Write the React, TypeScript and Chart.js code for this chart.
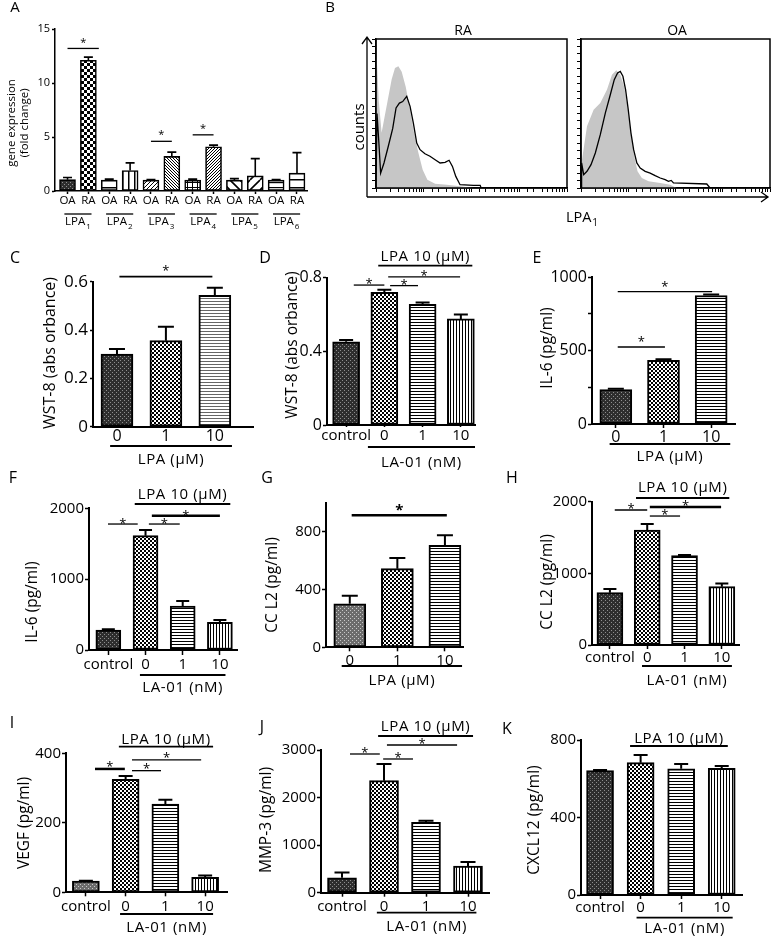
import { useEffect, useRef } from "react";
import { Chart, registerables } from "chart.js";

Chart.register(...registerables);

const FONT = '"Open Sans", "DejaVu Sans", sans-serif';

/* ===================== DATA ===================== */
// A: gene expression (fold change)
const A_CATEGORIES = ["OA", "RA", "OA", "RA", "OA", "RA", "OA", "RA", "OA", "RA", "OA", "RA"];
const A_VALUES = [1.05, 12.1, 1.0, 1.9, 1.0, 3.2, 1.0, 4.1, 1.0, 1.4, 1.0, 1.65];
const A_ERRORS = [0.2, 0.3, 0.1, 0.7, 0.05, 0.4, 0.1, 0.15, 0.15, 1.6, 0.05, 1.9];
const A_RECEPTORS = ["1", "2", "3", "4", "5", "6"];
const A_Y_TICKS = [0, 5, 10, 15];

// B: flow cytometry histograms (intensity, counts %)
const B_RA_ISO_X = [1, 1.03, 1.14, 1.31, 1.67, 2.13, 2.5, 2.94, 3.45, 4.19, 5.17, 6.26, 7.74, 9.5, 11.9, 17.3, 30.4, 57.6, 110];
const B_RA_ISO_Y = [0, 89, 59, 37, 55, 73, 80.5, 81.7, 78, 68, 52.6, 37, 23.5, 12.3, 5.6, 2.9, 2.2, 1.1, 0];
const B_RA_LPA1_X = [1, 1.05, 1.14, 1.25, 1.47, 1.81, 2.24, 2.63, 3.09, 3.62, 4.4, 5.17, 6.06, 7.13, 8.37, 10.6, 13.5, 17.3, 22.0, 28.0, 33.9, 39.9, 46.9, 57.6, 110, 152, 159];
const B_RA_LPA1_Y = [0, 50, 32, 10, 16.8, 28, 40, 53.7, 57, 58, 61.5, 54.8, 43.6, 30.2, 25.7, 23, 21.3, 19, 16.8, 17.2, 18.6, 14.5, 7.8, 2.2, 1.8, 1.8, 0];
const B_OA_ISO_X = [1, 1.05, 1.34, 1.85, 2.56, 3.54, 4.52, 5.58, 6.78, 8.2, 9.66, 11.4, 13.4, 15.7, 19.4, 26.9, 47.5, 77, 106];
const B_OA_ISO_Y = [0, 19, 41.4, 52.6, 57, 66, 76, 79, 76, 68.2, 54.8, 37, 21.3, 11.2, 6.7, 4.5, 3.4, 2.2, 0];
const B_OA_LPA1_X = [1, 1.03, 1.14, 1.34, 1.63, 2.01, 2.56, 3.27, 4.17, 5.06, 5.95, 6.78, 7.71, 8.78, 10.0, 11.4, 13.0, 15.2, 17.9, 22.8, 29.1, 37.1, 47.5, 60.4, 71, 81, 90.6, 459, 539];
const B_OA_LPA1_Y = [0, 16.8, 9, 11.2, 15.7, 23.5, 35.8, 50.3, 62.6, 72.7, 77.2, 78.3, 75, 66, 52.6, 37, 25.7, 16.8, 13.4, 11.2, 10, 8.3, 6.7, 5.6, 4.5, 5.1, 3.4, 2.7, 0];

// C: WST-8 vs LPA
const C_CATEGORIES = ["0", "1", "10"];
const C_VALUES = [0.3, 0.356, 0.544];
const C_ERRORS = [0.022, 0.058, 0.031];
const C_Y_TICKS = [0, 0.2, 0.4, 0.6];

// D: WST-8 vs LA-01
const LA_CATEGORIES = ["control", "0", "1", "10"];
const D_VALUES = [0.452, 0.72, 0.655, 0.576];
const D_ERRORS = [0.01, 0.015, 0.01, 0.024];
const D_Y_TICKS = [0, 0.4, 0.8];

// E: IL-6 vs LPA
const E_CATEGORIES = ["0", "1", "10"];
const E_VALUES = [235, 434, 876];
const E_ERRORS = [5, 7, 6];
const E_Y_MARKS = [0, 250, 500, 750, 1000];
const E_Y_LABELS = [0, 500, 1000];

// F: IL-6 vs LA-01
const F_VALUES = [282, 1614, 621, 390];
const F_ERRORS = [10, 80, 71, 34];
const F_Y_TICKS = [0, 1000, 2000];

// G: CCL2 vs LPA
const G_CATEGORIES = ["0", "1", "10"];
const G_VALUES = [301, 545, 707];
const G_ERRORS = [56, 74, 70];
const G_Y_TICKS = [0, 400, 800];

// H: CCL2 vs LA-01
const H_VALUES = [730, 1605, 1247, 814];
const H_ERRORS = [51, 83, 9, 46];
const H_Y_TICKS = [0, 1000, 2000];

// I: VEGF
const I_VALUES = [32, 325, 254, 43];
const I_ERRORS = [1.5, 10, 12, 5];
const I_Y_TICKS = [0, 200, 400];

// J: MMP-3
const J_VALUES = [315, 2355, 1479, 561];
const J_ERRORS = [112, 350, 35, 84];
const J_Y_TICKS = [0, 1000, 2000, 3000];

// K: CXCL12
const K_VALUES = [642, 683, 651, 654];
const K_ERRORS = [3, 40, 25, 12];
const K_Y_TICKS = [0, 400, 800];

/* ===================== PATTERNS ===================== */
function makePattern(name: string): CanvasPattern | string {
  const c = document.createElement("canvas");
  let g = c.getContext("2d")!;
  const tile = (w: number, h: number, bg: string) => {
    c.width = w;
    c.height = h;
    g = c.getContext("2d")!;
    g.fillStyle = bg;
    g.fillRect(0, 0, w, h);
    g.fillStyle = "#000";
    g.strokeStyle = "#000";
  };
  const diag = (s: number, dir: number, lw: number) => {
    tile(s, s, "#fff");
    g.lineWidth = lw;
    g.beginPath();
    for (const o of [-s, 0, s]) {
      if (dir > 0) {
        g.moveTo(o, s);
        g.lineTo(o + s, 0);
      } else {
        g.moveTo(o, 0);
        g.lineTo(o + s, s);
      }
    }
    g.stroke();
  };
  switch (name) {
    case "dark":
      tile(4, 4, "#2e2e2e");
      g.fillStyle = "#8e8e8e";
      g.fillRect(0, 0, 1, 1);
      g.fillRect(2, 2, 1, 1);
      break;
    case "gray":
      tile(4, 4, "#6c6c6c");
      g.fillStyle = "#c8c8c8";
      g.fillRect(0, 0, 1, 1);
      g.fillRect(2, 2, 1, 1);
      break;
    case "check":
      tile(4, 4, "#fff");
      g.fillRect(0, 0, 2, 2);
      g.fillRect(2, 2, 2, 2);
      break;
    case "checkBig":
      tile(6, 6, "#fff");
      g.fillRect(0, 0, 3, 3);
      g.fillRect(3, 3, 3, 3);
      break;
    case "hstripe":
      tile(4, 3, "#fff");
      g.fillRect(0, 0, 4, 1);
      break;
    case "hstripeGray":
      tile(4, 3, "#fff");
      g.fillStyle = "#666";
      g.fillRect(0, 0, 4, 1);
      break;
    case "vstripe":
      tile(3, 4, "#fff");
      g.fillRect(0, 0, 1, 4);
      break;
    case "hwide":
      tile(4, 8, "#fff");
      g.fillRect(0, 3, 4, 1.5);
      break;
    case "hwide2":
      tile(4, 5, "#fff");
      g.fillRect(0, 2, 4, 1.2);
      break;
    case "vwide":
      tile(6, 4, "#fff");
      g.fillRect(2, 0, 1.5, 4);
      break;
    case "grid":
      tile(5, 5, "#fff");
      g.fillRect(0, 2, 5, 1);
      g.fillRect(2, 0, 1, 5);
      break;
    case "diagR":
      diag(4, 1, 1);
      break;
    case "diagRdense":
      diag(3, 1, 1);
      break;
    case "diagLdense":
      diag(3, -1, 1);
      break;
    case "diagLwide":
      diag(10, -1, 1.6);
      break;
    case "diagRwide":
      diag(10, 1, 1.6);
      break;
    default:
      return "#888";
  }
  return g.createPattern(c, "repeat") || "#888";
}

/* ===================== PANEL CONFIGS ===================== */
type Sig = { a: number; b: number; y: number; w?: number; bold?: boolean };
type Group = { a: number; b: number; lineY: number; textY: number; text: string };
type Letter = [string, number, number, number];
type BarCfg = {
  kind: "bar";
  region: [number, number, number, number];
  area: [number, number, number, number];
  xMin: number;
  xMax: number;
  cats: string[];
  values: number[];
  errors: number[];
  patterns: string[];
  yMax: number;
  yMarks: number[];
  yLabels: number[];
  barW: number;
  cap: number;
  barBorder: number;
  axisW: number;
  yFont: number;
  xFont: number;
  xTickLen: number;
  xTickPad: number;
  yTickLen: number;
  yTickPad: number;
  yTitle: string[];
  yTitleX: number[];
  yTitleY: number;
  yTitleFont: number;
  letters: Letter[];
  sig: Sig[];
  starFont: number;
  starGap: number;
  top?: Group;
  bottom?: Group;
  pairs?: boolean;
};
type HistCfg = {
  kind: "hist";
  region: [number, number, number, number];
  area: [number, number, number, number];
  isoX: number[];
  isoY: number[];
  lpaX: number[];
  lpaY: number[];
  title: [string, number, number];
  extras: boolean;
};
type Cfg = BarCfg | HistCfg;

const LPA10 = "LPA 10 (\u03bcM)";
const LPAUM = "LPA (\u03bcM)";
const LA01 = "LA-01 (nM)";

const base = {
  kind: "bar" as const,
  barBorder: 2,
  axisW: 2,
  yFont: 15,
  xFont: 15,
  xTickLen: 4,
  xTickPad: 0,
  yTickLen: 4,
  yTickPad: 1,
  yTitleFont: 15.5,
  starFont: 13,
  starGap: 5,
};

const PANELS: Cfg[] = [
  {
    ...base,
    region: [0, 0, 340, 232],
    area: [55, 29, 307, 191],
    xMin: -0.6,
    xMax: 11.48,
    cats: A_CATEGORIES,
    values: A_VALUES,
    errors: A_ERRORS,
    patterns: ["dark", "checkBig", "hwide", "vwide", "diagR", "diagLdense", "grid", "diagRdense", "diagLwide", "diagRwide", "hwide2", "hwide"],
    yMax: 15,
    yMarks: A_Y_TICKS,
    yLabels: A_Y_TICKS,
    barW: 16,
    cap: 9,
    barBorder: 1.6,
    axisW: 1.5,
    yFont: 11,
    xFont: 11.5,
    xTickLen: 3,
    xTickPad: 0,
    yTickLen: 3,
    yTickPad: 2,
    yTitle: ["gene expression", "(fold change)"],
    yTitleX: [12, 25],
    yTitleY: 123,
    yTitleFont: 11.5,
    letters: [
      ["A", 15, 8, 15],
      ["B", 330, 8, 15],
    ],
    sig: [
      { a: 0, b: 1.5, y: 13.2 },
      { a: 4, b: 5, y: 4.6 },
      { a: 6, b: 7, y: 5.2 },
    ],
    starFont: 11,
    starGap: 9,
    pairs: true,
  },
  {
    kind: "hist",
    region: [340, 0, 776, 232],
    area: [376, 39, 567, 188],
    isoX: B_RA_ISO_X,
    isoY: B_RA_ISO_Y,
    lpaX: B_RA_LPA1_X,
    lpaY: B_RA_LPA1_Y,
    title: ["RA", 463, 31],
    extras: true,
  },
  {
    kind: "hist",
    region: [570, 0, 776, 232],
    area: [581, 39, 770, 188],
    isoX: B_OA_ISO_X,
    isoY: B_OA_ISO_Y,
    lpaX: B_OA_LPA1_X,
    lpaY: B_OA_LPA1_Y,
    title: ["OA", 677, 31],
    extras: false,
  },
  {
    ...base,
    region: [0, 232, 260, 470],
    area: [93, 281.7, 253, 426.7],
    xMin: -0.49,
    xMax: 2.78,
    cats: C_CATEGORIES,
    values: C_VALUES,
    errors: C_ERRORS,
    patterns: ["dark", "check", "hstripeGray"],
    yMax: 0.6,
    yMarks: C_Y_TICKS,
    yLabels: C_Y_TICKS,
    barW: 32,
    cap: 16,
    yFont: 17,
    xFont: 16,
    xTickLen: 0,
    xTickPad: 0,
    yTickLen: 3,
    yTickPad: 2,
    yTitle: ["WST-8 (abs orbance)"],
    yTitleX: [50],
    yTitleY: 353,
    yTitleFont: 16,
    letters: [["C", 15, 258, 16]],
    sig: [{ a: 0.05, b: 1.95, y: 0.621, w: 1.6 }],
    starGap: 9,
    bottom: { a: -0.14, b: 2.35, lineY: 446, textY: 460, text: LPAUM },
  },
  {
    ...base,
    region: [258, 232, 515, 470],
    area: [327, 277.7, 475, 425],
    xMin: -0.5,
    xMax: 3.37,
    cats: LA_CATEGORIES,
    values: D_VALUES,
    errors: D_ERRORS,
    patterns: ["dark", "check", "hstripe", "vstripe"],
    yMax: 0.8,
    yMarks: D_Y_TICKS,
    yLabels: D_Y_TICKS,
    barW: 27,
    cap: 14,
    yFont: 16,
    xTickLen: 2,
    xTickPad: 0,
    yTitle: ["WST-8 (abs orbance)"],
    yTitleX: [293],
    yTitleY: 345,
    letters: [["D", 265, 258, 16]],
    sig: [
      { a: 0.2, b: 1.0, y: 0.76 },
      { a: 1.15, b: 1.88, y: 0.757 },
      { a: 1.1, b: 2.98, y: 0.805 },
    ],
    starGap: 4,
    top: { a: 0.84, b: 3.3, lineY: 265.7, textY: 257, text: LPA10 },
    bottom: { a: 0.57, b: 3.37, lineY: 447, textY: 463, text: LA01 },
  },
  {
    ...base,
    region: [513, 232, 776, 470],
    area: [592, 277.3, 735, 424],
    xMin: -0.5,
    xMax: 2.5,
    cats: E_CATEGORIES,
    values: E_VALUES,
    errors: E_ERRORS,
    patterns: ["dark", "check", "hstripe"],
    yMax: 1000,
    yMarks: E_Y_MARKS,
    yLabels: E_Y_LABELS,
    barW: 32,
    cap: 16,
    yFont: 16,
    xFont: 16,
    yTitle: ["IL-6 (pg/ml)"],
    yTitleX: [548],
    yTitleY: 348,
    letters: [["E", 537, 258, 16]],
    sig: [
      { a: 0.04, b: 2.02, y: 902 },
      { a: 0.04, b: 1.03, y: 525 },
    ],
    starGap: 8,
    bottom: { a: -0.13, b: 2.4, lineY: 444, textY: 457, text: LPAUM },
  },
  {
    ...base,
    region: [0, 470, 260, 700],
    area: [89, 508.3, 237, 650],
    xMin: -0.52,
    xMax: 3.46,
    cats: LA_CATEGORIES,
    values: F_VALUES,
    errors: F_ERRORS,
    patterns: ["dark", "check", "hstripe", "vstripe"],
    yMax: 2000,
    yMarks: F_Y_TICKS,
    yLabels: F_Y_TICKS,
    barW: 25,
    cap: 13,
    xTickLen: 5,
    xTickPad: 1,
    yTitle: ["IL-6 (pg/ml)"],
    yTitleX: [33],
    yTitleY: 602,
    letters: [["F", 13, 478, 16]],
    sig: [
      { a: -0.01, b: 0.79, y: 1778 },
      { a: 1.09, b: 1.92, y: 1778 },
      { a: 1.17, b: 3.0, y: 1896, w: 2.5 },
    ],
    starGap: 3,
    top: { a: 0.71, b: 3.28, lineY: 504, textY: 495, text: LPA10 },
    bottom: { a: 0.85, b: 3.15, lineY: 675, textY: 688, text: LA01 },
  },
  {
    ...base,
    region: [258, 470, 515, 700],
    area: [326, 503, 463, 647.3],
    xMin: -0.5,
    xMax: 2.38,
    cats: G_CATEGORIES,
    values: G_VALUES,
    errors: G_ERRORS,
    patterns: ["gray", "check", "hstripe"],
    yMax: 1000,
    yMarks: G_Y_TICKS,
    yLabels: G_Y_TICKS,
    barW: 32,
    cap: 16,
    yTitle: ["CC L2 (pg/ml)"],
    yTitleX: [273],
    yTitleY: 585,
    letters: [["G", 267, 478, 16]],
    sig: [{ a: 0.04, b: 2.04, y: 915, w: 2.5, bold: true }],
    starGap: 9,
    bottom: { a: -0.17, b: 2.36, lineY: 666, textY: 681, text: LPAUM },
  },
  {
    ...base,
    region: [503, 470, 776, 700],
    area: [592, 501.7, 739, 645],
    xMin: -0.48,
    xMax: 3.46,
    cats: LA_CATEGORIES,
    values: H_VALUES,
    errors: H_ERRORS,
    patterns: ["dark", "check", "hstripe", "vstripe"],
    yMax: 2000,
    yMarks: H_Y_TICKS,
    yLabels: H_Y_TICKS,
    barW: 26,
    cap: 13,
    yTitle: ["CC L2 (pg/ml)"],
    yTitleX: [548],
    yTitleY: 582,
    letters: [["H", 512, 478, 16]],
    sig: [
      { a: 0.13, b: 1.0, y: 1884 },
      { a: 1.07, b: 1.88, y: 1800 },
      { a: 1.07, b: 2.98, y: 1926, w: 2.5 },
    ],
    starGap: 4,
    top: { a: 0.7, b: 3.2, lineY: 498, textY: 488, text: LPA10 },
    bottom: { a: 0.86, b: 3.27, lineY: 666, textY: 681, text: LA01 },
  },
  {
    ...base,
    region: [0, 700, 260, 937],
    area: [66, 753.3, 227, 892.3],
    xMin: -0.5,
    xMax: 3.55,
    cats: LA_CATEGORIES,
    values: I_VALUES,
    errors: I_ERRORS,
    patterns: ["gray", "check", "hstripe", "vstripe"],
    yMax: 400,
    yMarks: I_Y_TICKS,
    yLabels: I_Y_TICKS,
    barW: 27,
    cap: 14,
    xTickLen: 4,
    xTickPad: 1,
    yTitle: ["VEGF (pg/ml)"],
    yTitleX: [25],
    yTitleY: 823,
    letters: [["I", 12, 723, 16]],
    sig: [
      { a: 0.23, b: 0.98, y: 355, w: 2.5 },
      { a: 1.16, b: 1.89, y: 350 },
      { a: 1.16, b: 2.9, y: 381 },
    ],
    starGap: 5,
    top: { a: 0.83, b: 3.2, lineY: 746.7, textY: 740, text: LPA10 },
    bottom: { a: 0.86, b: 3.2, lineY: 914, textY: 928, text: LA01 },
  },
  {
    ...base,
    region: [258, 700, 515, 937],
    area: [321, 750, 489, 892.7],
    xMin: -0.5,
    xMax: 3.5,
    cats: LA_CATEGORIES,
    values: J_VALUES,
    errors: J_ERRORS,
    patterns: ["dark", "check", "hstripe", "vstripe"],
    yMax: 3000,
    yMarks: J_Y_TICKS,
    yLabels: J_Y_TICKS,
    barW: 29,
    cap: 15,
    xTickLen: 4,
    xTickPad: 1,
    yTitle: ["MMP-3 (pg/ml)"],
    yTitleX: [267],
    yTitleY: 820,
    letters: [["J", 262, 727, 16]],
    sig: [
      { a: 0.19, b: 0.9, y: 2916 },
      { a: 0.98, b: 1.69, y: 2811 },
      { a: 1.07, b: 2.74, y: 3105 },
    ],
    starGap: 4,
    top: { a: 0.86, b: 3.12, lineY: 736, textY: 727, text: LPA10 },
    bottom: { a: 0.83, b: 3.2, lineY: 912.7, textY: 927, text: LA01 },
  },
  {
    ...base,
    region: [498, 700, 776, 937],
    area: [581, 740, 742, 895],
    xMin: -0.47,
    xMax: 3.5,
    cats: LA_CATEGORIES,
    values: K_VALUES,
    errors: K_ERRORS,
    patterns: ["dark", "check", "hstripe", "vstripe"],
    yMax: 800,
    yMarks: K_Y_TICKS,
    yLabels: K_Y_TICKS,
    barW: 27,
    cap: 14,
    yTitle: ["CXCL12 (pg/ml)"],
    yTitleX: [535],
    yTitleY: 820,
    letters: [["K", 507, 729, 16]],
    sig: [],
    top: { a: 0.74, b: 3.15, lineY: 746, textY: 739, text: LPA10 },
    bottom: { a: 0.9, b: 3.27, lineY: 917.7, textY: 929, text: LA01 },
  },
];

/* ===================== DRAW HELPERS ===================== */
function subText(ctx: CanvasRenderingContext2D, main: string, sub: string, cx: number, cy: number, fs: number, sfs: number) {
  ctx.font = `${fs}px ${FONT}`;
  const w1 = ctx.measureText(main).width;
  ctx.font = `${sfs}px ${FONT}`;
  const w2 = ctx.measureText(sub).width;
  const x0 = cx - (w1 + w2 + 1) / 2;
  ctx.textAlign = "left";
  ctx.textBaseline = "middle";
  ctx.font = `${fs}px ${FONT}`;
  ctx.fillText(main, x0, cy);
  ctx.font = `${sfs}px ${FONT}`;
  ctx.fillText(sub, x0 + w1 + 1, cy + fs * 0.38);
}

function barPlugin(p: BarCfg) {
  const ox = p.region[0];
  const oy = p.region[1];
  return {
    id: "barAnnot",
    beforeDatasetsDraw(chart: any) {
      const ctx: CanvasRenderingContext2D = chart.ctx;
      const xs = chart.scales.x;
      const ys = chart.scales.y;
      ctx.save();
      ctx.strokeStyle = "#000";
      ctx.lineWidth = p.barBorder;
      p.values.forEach((v, i) => {
        const e = p.errors[i];
        if (!e) return;
        const x = xs.getPixelForValue(i);
        const y0 = ys.getPixelForValue(v);
        const y1 = ys.getPixelForValue(v + e);
        ctx.beginPath();
        ctx.moveTo(x, y0);
        ctx.lineTo(x, y1);
        ctx.moveTo(x - p.cap / 2, y1);
        ctx.lineTo(x + p.cap / 2, y1);
        ctx.stroke();
      });
      ctx.restore();
    },
    afterDraw(chart: any) {
      const ctx: CanvasRenderingContext2D = chart.ctx;
      const xs = chart.scales.x;
      const ys = chart.scales.y;
      const X = (v: number) => xs.getPixelForValue(v);
      const Y = (v: number) => ys.getPixelForValue(v);
      ctx.save();
      ctx.fillStyle = "#000";
      ctx.strokeStyle = "#000";
      for (const [t, x, y, fs] of p.letters) {
        ctx.font = `${fs}px ${FONT}`;
        ctx.textAlign = "center";
        ctx.textBaseline = "middle";
        ctx.fillText(t, x - ox, y - oy);
      }
      p.yTitle.forEach((t, i) => {
        ctx.save();
        ctx.translate(p.yTitleX[i] - ox, p.yTitleY - oy);
        ctx.rotate(-Math.PI / 2);
        ctx.font = `${p.yTitleFont}px ${FONT}`;
        ctx.textAlign = "center";
        ctx.textBaseline = "middle";
        ctx.fillText(t, 0, 0);
        ctx.restore();
      });
      for (const s of p.sig) {
        const y = Y(s.y);
        ctx.lineWidth = s.w ?? 1.3;
        ctx.beginPath();
        ctx.moveTo(X(s.a), y);
        ctx.lineTo(X(s.b), y);
        ctx.stroke();
        const fs = s.bold ? p.starFont + 2 : p.starFont;
        ctx.font = `${s.bold ? "bold " : ""}${fs}px ${FONT}`;
        ctx.textAlign = "center";
        ctx.textBaseline = "alphabetic";
        ctx.fillText("*", (X(s.a) + X(s.b)) / 2, y - p.starGap + fs * 0.56);
      }
      const group = (g: Group) => {
        ctx.lineWidth = 1.8;
        ctx.beginPath();
        ctx.moveTo(X(g.a), g.lineY - oy);
        ctx.lineTo(X(g.b), g.lineY - oy);
        ctx.stroke();
        ctx.font = `15px ${FONT}`;
        (ctx as any).letterSpacing = "0.6px";
        ctx.textAlign = "center";
        ctx.textBaseline = "middle";
        ctx.fillText(g.text, (X(g.a) + X(g.b)) / 2, g.textY - oy);
        (ctx as any).letterSpacing = "0px";
      };
      if (p.top) group(p.top);
      if (p.bottom) group(p.bottom);
      if (p.pairs) {
        A_RECEPTORS.forEach((r, i) => {
          ctx.lineWidth = 1.3;
          ctx.beginPath();
          ctx.moveTo(X(2 * i - 0.15), 214 - oy);
          ctx.lineTo(X(2 * i + 1.15), 214 - oy);
          ctx.stroke();
          subText(ctx, "LPA", r, X(2 * i + 0.5), 222 - oy, 11.5, 8);
        });
      }
      ctx.restore();
    },
  };
}

function histPlugin(p: HistCfg) {
  const ox = p.region[0];
  const oy = p.region[1];
  return {
    id: "histAnnot",
    afterDraw(chart: any) {
      const ctx: CanvasRenderingContext2D = chart.ctx;
      const a = chart.chartArea;
      ctx.save();
      ctx.strokeStyle = "#000";
      ctx.fillStyle = "#000";
      ctx.lineWidth = 1.5;
      ctx.strokeRect(a.left, a.top, a.right - a.left, a.bottom - a.top);
      ctx.font = `14px ${FONT}`;
      ctx.textAlign = "center";
      ctx.textBaseline = "middle";
      ctx.fillText(p.title[0], p.title[1] - ox, p.title[2] - oy);
      if (p.extras) {
        ctx.save();
        ctx.translate(360 - ox, 127 - oy);
        ctx.rotate(-Math.PI / 2);
        ctx.font = `15px ${FONT}`;
        ctx.fillText("counts", 0, 0);
        ctx.restore();
        ctx.lineWidth = 1.3;
        ctx.beginPath();
        ctx.moveTo(367 - ox, 197 - oy);
        ctx.lineTo(367 - ox, 37 - oy);
        ctx.moveTo(362 - ox, 44 - oy);
        ctx.lineTo(367 - ox, 37 - oy);
        ctx.lineTo(372 - ox, 44 - oy);
        ctx.moveTo(367 - ox, 197 - oy);
        ctx.lineTo(768 - ox, 197 - oy);
        ctx.moveTo(761 - ox, 192 - oy);
        ctx.lineTo(768 - ox, 197 - oy);
        ctx.lineTo(761 - ox, 202 - oy);
        ctx.stroke();
        subText(ctx, "LPA", "1", 582 - ox, 218 - oy, 14.5, 10);
      }
      ctx.restore();
    },
  };
}

function buildBar(canvas: HTMLCanvasElement, p: BarCfg) {
  const pats = p.patterns.map(makePattern);
  const [rx0, ry0, rx1, ry1] = p.region;
  const [al, at, ar, ab] = p.area;
  const yAxisW = al - rx0;
  const xAxisH = ry1 - ab;
  return new Chart(canvas, {
    type: "bar",
    data: {
      datasets: [
        {
          data: p.values.map((v, i) => ({ x: i, y: v })),
          backgroundColor: pats as any,
          borderColor: "#000",
          borderWidth: p.barBorder,
          borderSkipped: false,
          barThickness: p.barW,
        } as any,
      ],
    },
    options: {
      animation: false,
      responsive: false,
      events: [],
      layout: { padding: { left: 0, top: at - ry0, right: rx1 - ar, bottom: 0 } },
      plugins: { legend: { display: false }, tooltip: { enabled: false } },
      scales: {
        x: {
          type: "linear",
          min: p.xMin,
          max: p.xMax,
          bounds: "data",
          offset: false,
          afterFit: (s: any) => {
            s.height = xAxisH;
          },
          afterBuildTicks: (s: any) => {
            s.ticks = p.cats.map((_, i) => ({ value: i }));
          },
          ticks: {
            autoSkip: false,
            maxRotation: 0,
            minRotation: 0,
            padding: p.xTickPad,
            color: "#000",
            font: { family: FONT, size: p.xFont },
            callback: (v: any) => p.cats[Math.round(Number(v))] ?? "",
          },
          grid: { offset: false, drawOnChartArea: false, tickLength: p.xTickLen, tickColor: "#000", tickWidth: 1.5, display: true },
          border: { display: true, color: "#000", width: p.axisW },
        } as any,
        y: {
          min: 0,
          max: p.yMax,
          afterFit: (s: any) => {
            s.width = yAxisW;
          },
          afterBuildTicks: (s: any) => {
            s.ticks = p.yMarks.map((v) => ({ value: v }));
          },
          ticks: {
            autoSkip: false,
            padding: p.yTickPad,
            color: "#000",
            font: { family: FONT, size: p.yFont },
            callback: (v: any) => (p.yLabels.includes(Number(v)) ? String(v) : ""),
          },
          grid: { drawOnChartArea: false, tickLength: p.yTickLen, tickColor: "#000", tickWidth: 1.5 },
          border: { display: true, color: "#000", width: p.axisW },
        } as any,
      },
    },
    plugins: [barPlugin(p) as any],
  });
}

function buildHist(canvas: HTMLCanvasElement, p: HistCfg) {
  const [rx0, ry0, rx1, ry1] = p.region;
  const [al, at, ar, ab] = p.area;
  return new Chart(canvas, {
    type: "line",
    data: {
      datasets: [
        {
          data: p.isoX.map((x, i) => ({ x, y: p.isoY[i] })),
          borderWidth: 0,
          borderColor: "rgba(0,0,0,0)",
          backgroundColor: "#c6c6c6",
          fill: "origin",
          pointRadius: 0,
          tension: 0,
          order: 2,
        },
        {
          data: p.lpaX.map((x, i) => ({ x, y: p.lpaY[i] })),
          borderColor: "#000",
          borderWidth: 1.3,
          fill: false,
          pointRadius: 0,
          tension: 0,
          order: 1,
        },
      ] as any,
    },
    options: {
      animation: false,
      responsive: false,
      events: [],
      layout: { padding: { left: 0, top: at - ry0, right: rx1 - ar, bottom: 0 } },
      plugins: { legend: { display: false }, tooltip: { enabled: false } },
      scales: {
        x: {
          type: "logarithmic",
          min: 1,
          max: 10000,
          afterFit: (s: any) => {
            s.height = ry1 - ab;
          },
          ticks: { autoSkip: false, maxRotation: 0, padding: 0, callback: () => "" },
          grid: { drawOnChartArea: false, tickLength: 4, tickColor: "#000", tickWidth: 1 },
          border: { display: true, color: "#000", width: 1.5 },
        } as any,
        y: {
          min: 0,
          max: 100,
          afterFit: (s: any) => {
            s.width = al - rx0;
          },
          ticks: { autoSkip: false, stepSize: 5, padding: 0, callback: () => "" },
          grid: { drawOnChartArea: false, tickLength: 4, tickColor: "#000", tickWidth: 1 },
          border: { display: true, color: "#000", width: 1.5 },
        } as any,
      },
    },
    plugins: [histPlugin(p) as any],
  });
}

/* ===================== APP ===================== */
export default function App() {
  const refs = useRef<(HTMLCanvasElement | null)[]>([]);
  useEffect(() => {
    const charts = PANELS.map((p, i) => {
      const c = refs.current[i]!;
      return p.kind === "bar" ? buildBar(c, p) : buildHist(c, p);
    });
    return () => charts.forEach((c) => c.destroy());
  }, []);
  return (
    <div style={{ position: "absolute", left: 0, top: 0, width: 776, height: 937, background: "#fff", overflow: "hidden" }}>
      {PANELS.map((p, i) => {
        const [x0, y0, x1, y1] = p.region;
        return (
          <canvas
            key={i}
            ref={(el) => {
              refs.current[i] = el;
            }}
            width={x1 - x0}
            height={y1 - y0}
            style={{ position: "absolute", left: x0, top: y0, width: x1 - x0, height: y1 - y0 }}
          />
        );
      })}
    </div>
  );
}
